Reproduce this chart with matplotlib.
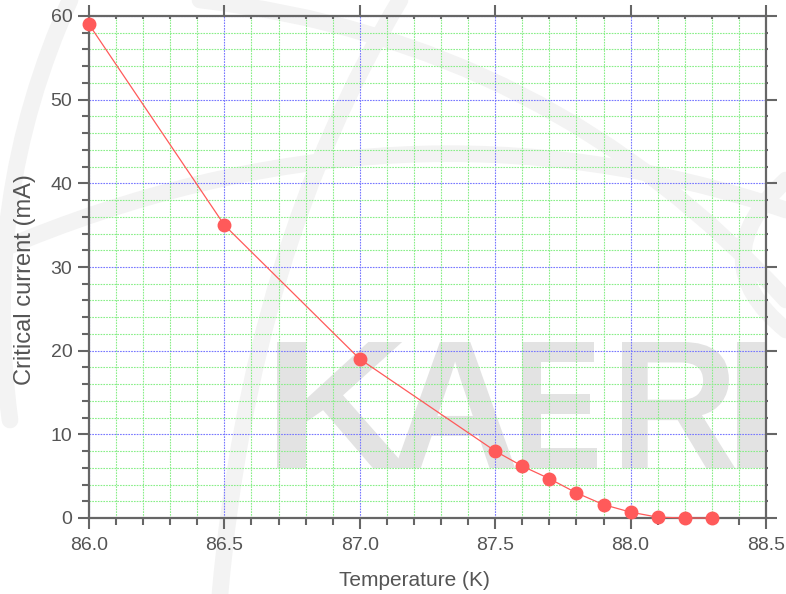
import matplotlib
matplotlib.use("Agg")
import matplotlib.pyplot as plt
from matplotlib.ticker import MultipleLocator
from matplotlib.path import Path
from matplotlib.patches import PathPatch, Rectangle
from matplotlib.textpath import TextPath
from matplotlib.font_manager import FontProperties
from matplotlib.transforms import Affine2D

temperature = [86.0, 86.5, 87.0, 87.5, 87.6, 87.7, 87.8, 87.9, 88.0, 88.1, 88.2, 88.3]
critical_current = [59.0, 35.0, 19.0, 8.0, 6.2, 4.7, 3.0, 1.6, 0.7, 0.1, 0.0, 0.0]
x_ticks = [86.0, 86.5, 87.0, 87.5, 88.0, 88.5]
y_ticks = [0, 10, 20, 30, 40, 50, 60]

plt.rcParams['font.family'] = ['Liberation Sans', 'DejaVu Sans']

W, H = 786, 594
fig = plt.figure(figsize=(W/100, H/100), dpi=100)

# ---- background watermark layer (pixel coordinates, y downward) ----
bg = fig.add_axes([0, 0, 1, 1], zorder=-1)
bg.set_xlim(0, W)
bg.set_ylim(H, 0)
bg.axis('off')

swooshes = [
    [(70, 0), (-20, 200), (10, 420)],
    [(200, 0), (550, 40), (786, 300)],
    [(400, 0), (250, 250), (220, 594)],
    [(0, 250), (400, 80), (786, 210)],
    [(786, 180), (700, 260), (786, 330)],
]
for pts in swooshes:
    p = Path(pts, [Path.MOVETO, Path.CURVE3, Path.CURVE3])
    bg.add_patch(PathPatch(p, facecolor='none', edgecolor='#f3f3f3', lw=12,
                           capstyle='round'))

clip_rect = Rectangle((89, 16), 677, 502, transform=bg.transData)
fp = FontProperties(family='Liberation Sans', weight='bold')
letters = [('K', 277, 407), ('A', 395, 515), ('E', 522, 597), ('R', 622, 735), ('I', 737, 772)]
for ch, x0, x1 in letters:
    tp = TextPath((0, 0), ch, size=1, prop=fp)
    ext = tp.get_extents()
    sx = (x1 - x0) / ext.width
    sy = (468 - 342) / ext.height
    tr = Affine2D().translate(-ext.x0, -ext.y0).scale(sx, -sy).translate(x0, 468)
    patch = PathPatch(tr.transform_path(tp), facecolor='#e3e3e3', edgecolor='none')
    bg.add_patch(patch)
    patch.set_clip_path(clip_rect)

# ---- main axes ----
ax = fig.add_axes([89/W, 76/H, 677/W, 502/H], zorder=0)
ax.set_facecolor('none')
ax.set_xlim(86.0, 88.5)
ax.set_ylim(0, 60)
ax.set_xticks(x_ticks)
ax.set_yticks(y_ticks)
ax.set_xticklabels([f'{v:.1f}' for v in x_ticks])
ax.xaxis.set_minor_locator(MultipleLocator(0.1))
ax.yaxis.set_minor_locator(MultipleLocator(2))

ax.grid(which='major', color='#7777ff', linestyle=(0, (1.5, 1)), linewidth=0.8, zorder=1)
ax.grid(which='minor', color='#88ee88', linestyle=(0, (1.5, 1)), linewidth=0.8, zorder=1)

ax.plot(temperature, critical_current, color='#ff5a5a', lw=0.9, marker='o',
        markersize=9, markerfacecolor='#ff5a5a', markeredgecolor='#ff5a5a', zorder=3,
        clip_on=False)

for s in ax.spines.values():
    s.set_color('#666666')
    s.set_linewidth(1.6)

ax.tick_params(axis='both', which='major', direction='out', length=8, width=1.5,
               color='#666666', labelcolor='#555555', labelsize=14)
ax.tick_params(axis='both', which='minor', direction='out', length=5, width=1.5, color='#666666')
ax.tick_params(axis='both', which='both', top=True, right=True)
for t in ax.xaxis.get_major_ticks() + ax.xaxis.get_minor_ticks():
    t.tick2line.set_marker(3)
    t.tick2line.set_markersize(2.5)
for t in ax.yaxis.get_major_ticks() + ax.yaxis.get_minor_ticks():
    t.tick2line.set_markersize(1.5)
ax.tick_params(axis='x', pad=6)
ax.tick_params(axis='y', pad=4)

ax.set_xlabel('Temperature (K)', fontsize=15, color='#555555')
ax.set_ylabel('Critical current (mA)', fontsize=17, color='#555555')
ax.xaxis.set_label_coords((414 - 89) / 677, -(580 - 518) / 502)
ax.yaxis.set_label_coords(-(89 - 25) / 677, (518 - 280) / 502)
ax.xaxis.label.set_va('center')
ax.yaxis.label.set_va('center')

fig.savefig('out.png', dpi=100)
